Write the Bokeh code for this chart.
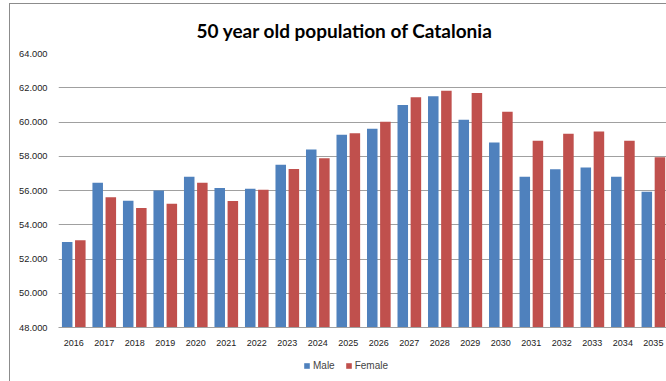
from bokeh.plotting import figure
from bokeh.layouts import column
from bokeh.models import (Range1d, FixedTicker, Legend, LegendItem, ColumnDataSource)
from bokeh.embed import file_html
from bokeh.resources import INLINE

years = [2016, 2017, 2018, 2019, 2020, 2021, 2022, 2023, 2024, 2025,
         2026, 2027, 2028, 2029, 2030, 2031, 2032, 2033, 2034, 2035]
male = [53.00, 56.45, 55.40, 56.00, 56.80, 56.15, 56.10, 57.50, 58.40, 59.25,
        59.60, 61.00, 61.50, 60.13, 58.81, 56.81, 57.24, 57.34, 56.81, 55.92]
female = [53.10, 55.60, 54.98, 55.22, 56.45, 55.38, 56.05, 57.25, 57.88, 59.35,
          60.02, 61.44, 61.83, 61.69, 60.60, 58.91, 59.31, 59.44, 58.91, 57.94]
y_ticks = [48, 50, 52, 54, 56, 58, 60, 62, 64]
y_tick_labels = ["48.000", "50.000", "52.000", "54.000", "56.000",
                 "58.000", "60.000", "62.000", "64.000"]
series_names = ["Male", "Female"]
colors = ["#4F81BD", "#C0504D"]

p = figure(width=656, height=350, output_backend="svg", toolbar_location=None,
           x_range=Range1d(2015.5, 2035.43), y_range=Range1d(48, 64),
           min_border_left=48, min_border_right=0, min_border_top=48,
           min_border_bottom=27, title="50 year old population of Catalonia")

p.title.text_font = "Lato"
p.title.text_font_style = "bold"
p.title.text_font_size = "19px"
p.title.align = "left"
p.title.offset = 138
p.title.standoff = 24
p.title.text_color = "#000000"

male_x = [y - 0.215 for y in years]
female_x = [y + 0.215 for y in years]
src = ColumnDataSource(dict(mx=male_x, fx=female_x, m=male, f=female))
p.vbar(x="mx", top="m", bottom=48, width=0.345, source=src,
       fill_color=colors[0], line_color=None)
p.vbar(x="fx", top="f", bottom=48, width=0.345, source=src,
       fill_color=colors[1], line_color=None)

p.outline_line_color = None
p.background_fill_color = "white"
p.xgrid.grid_line_color = None
p.ygrid.grid_line_color = "#A0A0A0"
p.ygrid.grid_line_width = 1
p.ygrid.ticker = FixedTicker(ticks=y_ticks)

p.yaxis.ticker = FixedTicker(ticks=y_ticks)
p.yaxis.major_label_overrides = {t: l for t, l in zip(y_ticks, y_tick_labels)}
p.yaxis.axis_line_color = None
p.yaxis.major_tick_line_color = None
p.yaxis.minor_tick_line_color = None
p.yaxis.major_label_text_font = "Liberation Sans"
p.yaxis.major_label_text_font_size = "9.3px"
p.yaxis.major_label_text_color = "#222222"
p.yaxis.major_label_standoff = 5

p.xaxis.ticker = FixedTicker(ticks=years)
p.xaxis.major_label_overrides = {y: str(y) for y in years}
p.xaxis.axis_line_color = "#A0A0A0"
p.xaxis.major_tick_line_color = None
p.xaxis.minor_tick_line_color = None
p.xaxis.major_label_text_font = "Liberation Sans"
p.xaxis.major_label_text_font_size = "9px"
p.xaxis.major_label_text_color = "#222222"
p.xaxis.major_label_standoff = 6

# legend strip below the chart
lg = figure(width=656, height=27, output_backend="svg", toolbar_location=None,
            x_range=Range1d(0, 1), y_range=Range1d(0, 1),
            min_border_left=0, min_border_right=0, min_border_top=0,
            min_border_bottom=0)
lg.axis.visible = False
lg.grid.visible = False
lg.outline_line_color = None
offscreen = ColumnDataSource(dict(x=[5], top=[5], bottom=[4]))
lr1 = lg.vbar(x="x", top="top", bottom="bottom", width=0.1, source=offscreen,
              fill_color=colors[0], line_color=None)
lr2 = lg.vbar(x="x", top="top", bottom="bottom", width=0.1, source=offscreen,
              fill_color=colors[1], line_color=None)
legend = Legend(items=[LegendItem(label=series_names[0], renderers=[lr1]),
                       LegendItem(label=series_names[1], renderers=[lr2])],
                orientation="horizontal", location=(245, 10),
                glyph_width=7, glyph_height=7, label_text_font="Liberation Sans",
                label_text_font_size="10px", label_standoff=3, spacing=10,
                label_height=10, padding=2, margin=0, border_line_color=None,
                background_fill_alpha=0)
lg.add_layout(legend, "center")

layout = column(p, lg, spacing=0)
layout.styles = {"margin-left": "9px", "margin-top": "3px",
                 "border-left": "1px solid #8C8C8C", "border-top": "1px solid #8C8C8C"}

open("out.html", "w").write(file_html(layout, INLINE))
